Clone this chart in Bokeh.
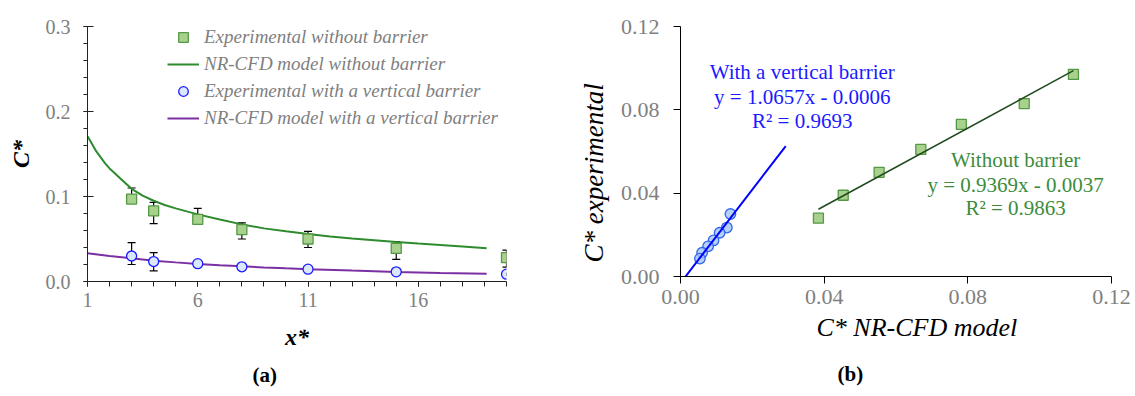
import numpy as np
from bokeh.plotting import figure
from bokeh.models import (ColumnDataSource, FixedTicker, NumeralTickFormatter, Whisker,
                          TeeHead, Label, Legend, LegendItem, Range1d, Title)
from bokeh.layouts import row
from bokeh.embed import file_html
from bokeh.resources import INLINE

# ---------------- data ----------------
x_star = [3, 4, 6, 8, 11, 15, 20]
exp_no_barrier = [0.097, 0.083, 0.073, 0.061, 0.050, 0.039, 0.028]
exp_no_barrier_lo = [0.093, 0.068, 0.068, 0.050, 0.040, 0.026, 0.017]
exp_no_barrier_hi = [0.110, 0.093, 0.086, 0.069, 0.059, 0.047, 0.037]
exp_barrier = [0.030, 0.0235, 0.021, 0.0173, 0.0145, 0.0114, 0.0086]
exp_barrier_lo = [0.020, 0.0124, 0.018, 0.0155, 0.0128, 0.0098, 0.0072]
exp_barrier_hi = [0.0457, 0.034, 0.024, 0.0195, 0.016, 0.013, 0.010]

model_x_nb = [1, 1.2, 1.4, 1.6, 1.8, 2, 2.25, 2.5, 2.75, 3, 3.5, 4, 4.5, 5, 6, 7, 8, 9,
              10, 11, 12, 13, 14, 15, 16, 17, 18, 19.1]
model_no_barrier = [0.171, 0.162, 0.153, 0.146, 0.139, 0.133, 0.127, 0.121, 0.115, 0.109,
                    0.101, 0.0950, 0.0900, 0.0860, 0.0790, 0.0730, 0.0672, 0.0625, 0.0590,
                    0.0560, 0.0530, 0.0505, 0.0485, 0.0465, 0.0447, 0.0430, 0.0413, 0.0390]
model_x_b = [1, 2, 3, 4, 5, 6, 7, 8, 9, 10, 11, 13, 15, 17, 19.1]
model_barrier = [0.0332, 0.0300, 0.0273, 0.0245, 0.0225, 0.0207, 0.0192, 0.0178, 0.0166,
                 0.0155, 0.0145, 0.0128, 0.0113, 0.0101, 0.0091]

# panel (b): model value at each measured point
model_nb_at_pts = [0.1094, 0.0957, 0.0782, 0.0669, 0.0553, 0.0453, 0.0384]
model_b_at_pts = [0.0139, 0.0129, 0.0109, 0.0092, 0.0077, 0.0060, 0.0054]
nb_slope, nb_intercept, nb_r2 = 0.9369, -0.0037, 0.9863
b_slope, b_intercept, b_r2 = 1.0657, -0.0006, 0.9693
b_trend_x = [0.0014, 0.0293]
b_trend_y = [0.0, 0.0626]

left_xticks = [1, 6, 11, 16]
left_yticks = [0.0, 0.1, 0.2, 0.3]
right_ticks = [0.0, 0.04, 0.08, 0.12]

SERIF = "Liberation Serif"
GREEN_FILL, GREEN_LINE = "#a9d18e", "#559944"
GREEN_CURVE = "#2e8b2e"
PURPLE = "#7b2fa3"
TICK_GREY = "#808080"

# ---------------- panel (a) ----------------
p1 = figure(width=548, height=396, frame_width=419, frame_height=255,
            x_range=Range1d(1, 20), y_range=Range1d(0, 0.3),
            output_backend="svg", toolbar_location=None,
            min_border_left=87, min_border_right=42, min_border_top=26, min_border_bottom=115)
p1.outline_line_color = None
p1.grid.visible = False
p1.background_fill_color = None
p1.border_fill_color = None

l_nb = p1.line(model_x_nb, model_no_barrier, line_color=GREEN_CURVE, line_width=2)
l_b = p1.line(model_x_b, model_barrier, line_color=PURPLE, line_width=2)

src_nb = ColumnDataSource(dict(x=x_star, y=exp_no_barrier, lo=exp_no_barrier_lo, hi=exp_no_barrier_hi))
src_b = ColumnDataSource(dict(x=x_star, y=exp_barrier, lo=exp_barrier_lo, hi=exp_barrier_hi))
for s in (src_nb, src_b):
    p1.add_layout(Whisker(source=s, base="x", upper="hi", lower="lo", level="underlay",
                          line_color="black", line_width=1.2,
                          upper_head=TeeHead(size=8, line_color="black", line_width=1.2),
                          lower_head=TeeHead(size=8, line_color="black", line_width=1.2)))
r_sq = p1.scatter("x", "y", source=src_nb, marker="square", size=10,
                  fill_color=GREEN_FILL, line_color=GREEN_LINE, line_width=1.3)
r_ci = p1.scatter("x", "y", source=src_b, marker="circle", size=10,
                  fill_color="#dbe8fb", line_color="#1a1aff", line_width=1.3)

legend = Legend(items=[LegendItem(label="Experimental without barrier", renderers=[r_sq]),
                       LegendItem(label="NR-CFD model without barrier", renderers=[l_nb]),
                       LegendItem(label="Experimental with a vertical barrier", renderers=[r_ci]),
                       LegendItem(label="NR-CFD model with a vertical barrier", renderers=[l_b])],
                location=(80, 151), orientation="vertical", border_line_alpha=0,
                background_fill_alpha=0, padding=0, margin=0, spacing=3,
                glyph_width=32, glyph_height=24, label_height=24, label_standoff=5,
                label_text_font=SERIF, label_text_font_style="italic",
                label_text_font_size="19px", label_text_color="#7f7f7f")
p1.add_layout(legend)

xa, ya = p1.xaxis[0], p1.yaxis[0]
xa.ticker = FixedTicker(ticks=left_xticks, minor_ticks=list(range(1, 21)))
ya.ticker = FixedTicker(ticks=left_yticks, minor_ticks=[i * 0.02 for i in range(16)])
ya.formatter = NumeralTickFormatter(format="0.0")
for ax in (xa, ya):
    ax.axis_line_color = "#222222"
    ax.major_tick_line_color = "#222222"
    ax.minor_tick_line_color = "#222222"
    ax.major_label_text_font = SERIF
    ax.major_label_text_font_size = "20px"
    ax.major_label_text_color = TICK_GREY
    ax.axis_label_text_font = SERIF
    ax.axis_label_text_font_style = "bold italic"
    ax.axis_label_text_font_size = "24px"
    ax.axis_label_text_color = "black"
xa.major_tick_in, xa.major_tick_out = 0, 5
xa.minor_tick_in, xa.minor_tick_out = 0, 5
xa.major_label_standoff = 6
xa.axis_label = "x*"
xa.axis_label_standoff = 14
ya.major_tick_in, ya.major_tick_out = 6, 4
ya.minor_tick_in, ya.minor_tick_out = 0, 4
ya.major_label_standoff = 13
ya.axis_label = "C*"
ya.axis_label_standoff = 9

p1.add_layout(Title(text="(a)", align="left", offset=165, standoff=17, text_font=SERIF,
                    text_font_style="bold", text_font_size="21px", text_color="black"), "below")

# ---------------- panel (b) ----------------
p2 = figure(width=586, height=396, frame_width=431, frame_height=250,
            x_range=Range1d(0, 0.12), y_range=Range1d(0, 0.12),
            output_backend="svg", toolbar_location=None,
            min_border_left=132, min_border_right=23, min_border_top=21, min_border_bottom=125)
p2.outline_line_color = None
p2.grid.visible = False
p2.background_fill_color = None
p2.border_fill_color = None

p2.scatter(model_nb_at_pts, exp_no_barrier, marker="square", size=10,
           fill_color=GREEN_FILL, line_color=GREEN_LINE, line_width=1.3)
tx = np.array([min(model_nb_at_pts), max(model_nb_at_pts)])
p2.line(tx, nb_slope * tx + nb_intercept, line_color="#1e4a1e", line_width=1.5)
p2.scatter(model_b_at_pts, exp_barrier, marker="circle", size=10.5, fill_color="#a4c6f4",
           fill_alpha=0.8, line_color="#3366ee", line_width=1.3)
p2.line(b_trend_x, b_trend_y, line_color="#0000ff", line_width=2)

xb, yb = p2.xaxis[0], p2.yaxis[0]
xb.ticker = FixedTicker(ticks=right_ticks, minor_ticks=[])
yb.ticker = FixedTicker(ticks=right_ticks, minor_ticks=[])
for ax in (xb, yb):
    ax.formatter = NumeralTickFormatter(format="0.00")
    ax.axis_line_color = "black"
    ax.major_tick_line_color = "black"
    ax.major_tick_in, ax.major_tick_out = 0, 7
    ax.minor_tick_in, ax.minor_tick_out = 0, 0
    ax.major_label_text_font = SERIF
    ax.major_label_text_font_size = "22px"
    ax.major_label_text_color = TICK_GREY
xb.major_label_standoff = 6
yb.major_label_standoff = 14

p2.add_layout(Title(text="C* experimental", align="left", offset=14, standoff=18,
                    text_font=SERIF, text_font_style="italic", text_font_size="27px",
                    text_color="black"), "left")
p2.add_layout(Title(text="C* NR-CFD model", align="left", offset=136, standoff=9,
                    text_font=SERIF, text_font_style="italic", text_font_size="26px",
                    text_color="black"), "below")
p2.add_layout(Title(text="(b)", align="left", offset=157, standoff=26, text_font=SERIF,
                    text_font_style="bold", text_font_size="21px", text_color="black"), "below")


def note(p, x, y, text, color):
    p.add_layout(Label(x=x, y=y, text=text, text_font=SERIF, text_font_size="21px",
                       text_color=color, text_align="center", text_baseline="middle"))


BLUE_TXT, GREEN_TXT = "#1a1aff", "#3c8c3c"
note(p2, 0.0339, 0.0981, "With a vertical barrier", BLUE_TXT)
note(p2, 0.0339, 0.0861, f"y = {b_slope:.4f}x - {abs(b_intercept):.4f}", BLUE_TXT)
note(p2, 0.0339, 0.0745, f"R² = {b_r2:.4f}", BLUE_TXT)
note(p2, 0.0933, 0.0557, "Without barrier", GREEN_TXT)
note(p2, 0.0933, 0.0437, f"y = {nb_slope:.4f}x - {abs(nb_intercept):.4f}", GREEN_TXT)
note(p2, 0.0933, 0.0328, f"R² = {nb_r2:.4f}", GREEN_TXT)

layout = row(p1, p2)
open("out.html", "w").write(file_html(layout, INLINE))
